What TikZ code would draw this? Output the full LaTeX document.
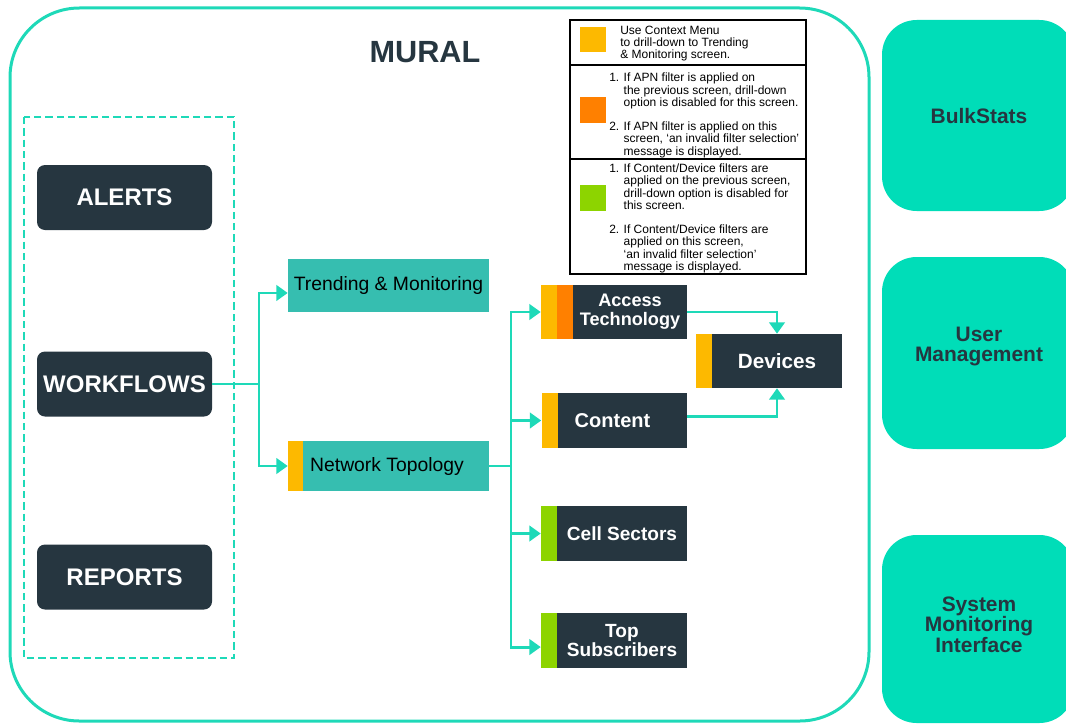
\documentclass[tikz,border=0pt]{standalone}
\usepackage{fontspec}
\setmainfont{Liberation Sans}
\usetikzlibrary{arrows.meta,calc}
\definecolor{frameteal}{RGB}{30,217,184}
\definecolor{darkbox}{RGB}{38,54,64}
\definecolor{tealbox}{RGB}{54,190,176}
\definecolor{stripyellow}{RGB}{253,185,0}
\definecolor{striporange}{RGB}{255,128,0}
\definecolor{stripgreen}{RGB}{141,212,0}
\definecolor{sidebox}{RGB}{0,221,184}
\newcommand\fsz[2]{\fontsize{#1}{#2}\selectfont}
\begin{document}
\begin{tikzpicture}[x=0.75pt,y=-0.75pt,
  conn/.style={draw=frameteal, line width=2.2pt, -{Triangle[length=8.5pt,width=11.5pt]}},
  link/.style={draw=frameteal, line width=2.2pt},
  navbox/.style={fill=darkbox, rounded corners=6pt, minimum width=131.25pt, minimum height=48.75pt, text=white, font=\fsz{18}{20}\bfseries, inner sep=0pt},
  tealscreen/.style={fill=tealbox, minimum height=39pt, text=black, font=\fsz{14.5}{16}, inner sep=0pt},
  darkscreen/.style={fill=darkbox, text=white, font=\fsz{14.3}{14.3}\bfseries, align=center, inner sep=0pt, minimum width=97.5pt, minimum height=41pt},
  strip/.style={inner sep=0pt, minimum width=12pt, minimum height=41pt},
  swatch/.style={inner sep=0pt, minimum width=19.5pt, minimum height=19pt},
  legtext/.style={font=\fsz{9}{9}, align=left, inner sep=0pt, anchor=west},
  side/.style={fill=sidebox, rounded corners=26pt, minimum width=144pt, inner sep=0pt},
  sidetext/.style={text=darkbox, font=\fsz{15.7}{15.5}\bfseries, align=center, inner sep=0pt}
]
\useasboundingbox (0,0) rectangle (1066,724);
\clip (0,0) rectangle (1066,724);

% outer MURAL frame
\draw[frameteal, line width=2.25pt, rounded corners=52pt] (10,8) rectangle (869,721);
\node[text=darkbox, font=\fsz{23}{25}\bfseries] (mural) at (425,52) {MURAL};

% dashed group
\draw[frameteal, line width=1.5pt, dash pattern=on 5.5pt off 3pt] (24,117) rectangle (234,658);

\node[navbox] (alerts) at (124.5,197.5) {ALERTS};
\node[navbox] (wf) at (124.5,384) {WORKFLOWS};
\node[navbox] (reports) at (124.5,577) {REPORTS};

% screens
\node[tealscreen, minimum width=150.75pt, minimum height=39.75pt] (tm) at (388.5,285.5) {Trending \& Monitoring};
\node[strip, fill=stripyellow, minimum width=11.25pt, minimum height=37.5pt] (ntY) at (295.5,466) {};
\node[tealscreen, minimum width=139.5pt, minimum height=37.5pt] (nt) at (396,466) {Network Topology\hspace*{13.5pt}};

\node[strip, fill=stripyellow, minimum height=40.5pt] (accY) at (549,312) {};
\node[strip, fill=striporange, minimum height=40.5pt] (accO) at (565,312) {};
\node[darkscreen, minimum width=85.5pt, minimum height=40.5pt, font=\fsz{13.6}{14}\bfseries] (acc) at (630,312) {Access\\Technology};

\node[strip, fill=stripyellow] (conY) at (549.5,420.5) {};
\node[darkscreen, minimum width=96.75pt, font=\fsz{15}{15}\bfseries] (con) at (622.5,420.5) {Content\hspace*{15pt}};

\node[strip, fill=stripgreen] (cellG) at (549,533.5) {};
\node[darkscreen] (cell) at (622,533.5) {Cell Sectors};

\node[strip, fill=stripgreen] (topG) at (549,640.5) {};
\node[darkscreen] (top) at (622,640.5) {Top\\Subscribers};

\node[strip, fill=stripyellow, minimum height=40.5pt] (devY) at (704,361) {};
\node[darkscreen, minimum height=40.5pt, font=\fsz{15.5}{15.5}\bfseries] (dev) at (777,361) {Devices};

% connectors
\coordinate (j1) at (259,384);
\draw[link] (wf.east) -- (j1);
\draw[conn] (j1) |- ([yshift=-5.6pt]tm.west);
\draw[conn] (j1) |- (ntY.west);

\coordinate (j2) at (511,466);
\draw[link] (nt.east) -- (j2);
\draw[conn] (j2) |- (accY.west);
\draw[conn] (j2) |- (conY.west);
\draw[conn] (j2) |- (cellG.west);
\draw[conn] (j2) |- ([yshift=-4.9pt]topG.west);

\draw[conn] (acc.east) -| (dev.north);
\draw[conn] ([yshift=3pt]con.east) -| (dev.south);

% legend
\draw[line width=1.6pt] (570,20) rectangle (806,274);
\draw[line width=1.6pt] (570,65) -- (806,65);
\draw[line width=1.6pt] (570,159) -- (806,159);
\node[swatch, fill=stripyellow] (swY) at (593,39.5) {};
\node[swatch, fill=striporange] (swO) at (593,110) {};
\node[swatch, fill=stripgreen] (swG) at (593,198) {};
\node[legtext] (leg1) at (620,44) {Use Context Menu\\to drill-down to Trending\\\& Monitoring screen.};
\node[legtext] (leg2) at (609,116) {\begin{tabular}{@{}l@{ }l@{}}
1.&If APN filter is applied on\\
&the previous screen, drill-down\\
&option is disabled for this screen.\\[9pt]
2.&If APN filter is applied on this\\
&screen, ‘an invalid filter selection’\\
&message is displayed.
\end{tabular}};
\node[legtext] (leg3) at (609,219) {\begin{tabular}{@{}l@{ }l@{}}
1.&If Content/Device filters are\\
&applied on the previous screen,\\
&drill-down option is disabled for\\
&this screen.\\[9pt]
2.&If Content/Device filters are\\
&applied on this screen,\\
&‘an invalid filter selection’\\
&message is displayed.
\end{tabular}};

% side modules
\node[side, minimum height=143.25pt] (bulk) at (978,115.5) {};
\node[sidetext] (bulkT) at (979,116) {BulkStats};
\node[side, minimum height=144pt] (user) at (978,353) {};
\node[sidetext] (userT) at (979,346.5) {User\\Management};
\node[side, minimum height=141pt] (sys) at (978,629) {};
\node[sidetext] (sysT) at (979,624.5) {System\\Monitoring\\Interface};
\end{tikzpicture}
\end{document}
